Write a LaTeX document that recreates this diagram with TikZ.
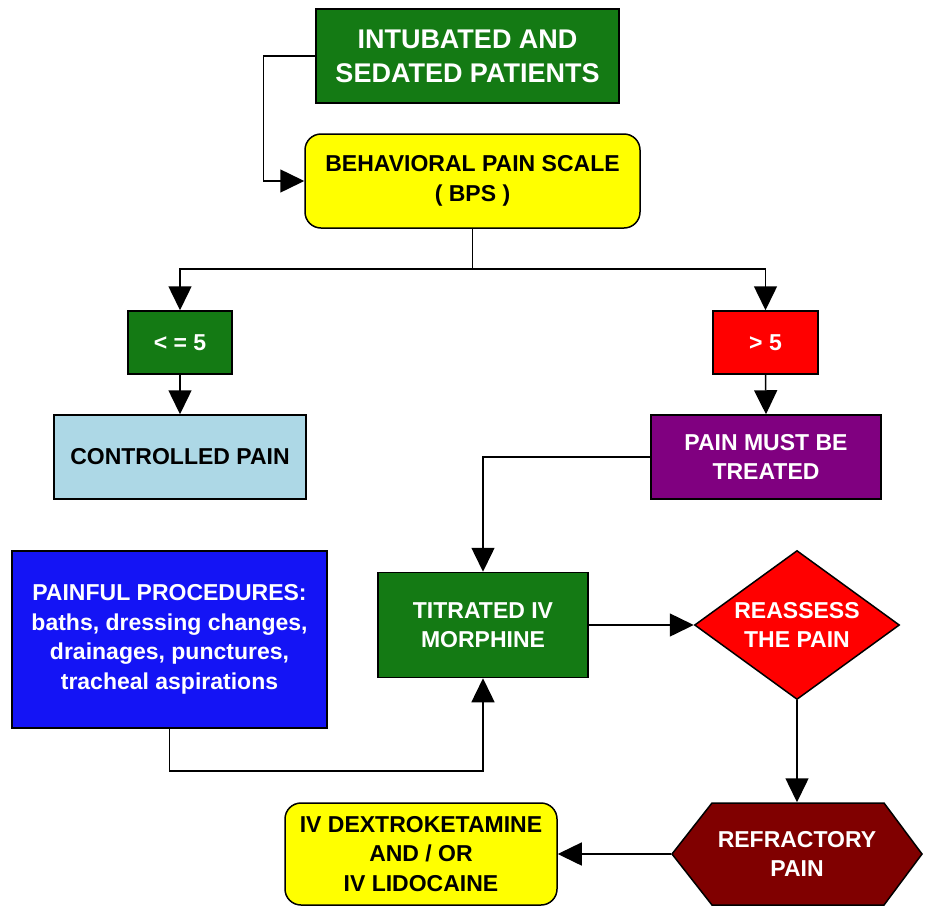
\documentclass[tikz,border=0pt]{standalone}
\usepackage{fontspec}
\setmainfont{Liberation Sans}
\usetikzlibrary{arrows.meta,shapes.geometric}
\definecolor{dgreen}{RGB}{20,122,20}
\definecolor{ygold}{RGB}{255,255,0}
\definecolor{lblue}{RGB}{173,216,230}
\definecolor{purp}{RGB}{128,0,128}
\definecolor{bblue}{RGB}{20,20,245}
\definecolor{redd}{RGB}{255,0,0}
\definecolor{maroon}{RGB}{128,0,0}
\tikzset{
  box/.style={draw=black, line width=1.5pt, align=center, inner sep=0pt,
    font=\bfseries\fontsize{23}{29.5}\selectfont},
  wbox/.style={box, text=white},
  arr/.style={line width=1.5pt, -{Triangle[length=24pt,width=23pt]}},
  ln/.style={line width=1.5pt}
}
\begin{document}
\begin{tikzpicture}[x=1pt,y=-1pt]
\useasboundingbox (0,0) rectangle (926,908);
% nodes
\node[wbox, fill=dgreen, minimum width=303pt, minimum height=94pt,
  font=\bfseries\fontsize{27}{34}\selectfont] (top) at (467.5,56) {INTUBATED AND\\SEDATED PATIENTS};
\node[box, fill=ygold, rounded corners=16pt, minimum width=335pt, minimum height=94pt] (bps) at (472.5,181) {BEHAVIORAL PAIN SCALE\\( BPS )};
\node[wbox, fill=dgreen, minimum width=104pt, minimum height=63pt] (le5) at (180,342.5) {< = 5};
\node[wbox, fill=redd, minimum width=105pt, minimum height=63pt] (gt5) at (765.5,342.5) {> 5};
\node[box, fill=lblue, minimum width=252pt, minimum height=84pt] (ctrl) at (180,457) {CONTROLLED PAIN};
\node[wbox, fill=purp, minimum width=230pt, minimum height=84pt] (treat) at (766,457) {PAIN MUST BE\\TREATED};
\node[wbox, fill=dgreen, minimum width=210pt, minimum height=105pt] (titr) at (483,625) {TITRATED IV\\MORPHINE};
\node[wbox, fill=bblue, minimum width=315pt, minimum height=177pt] (proc) at (169.5,639.5) {PAINFUL PROCEDURES:\\baths, dressing changes,\\drainages, punctures,\\tracheal aspirations};
\node[wbox, fill=redd, shape=diamond, aspect=1.376, minimum width=205pt, minimum height=149pt] (reas) at (797,625) {REASSESS\\THE PAIN};
\draw[ln, fill=maroon] (672,854) -- (712,803) -- (884,803) -- (922,854) -- (884,905) -- (712,905) -- cycle;
\node[box, draw=none, text=white, minimum width=250pt, minimum height=102pt] (refr) at (797,854) {REFRACTORY\\PAIN};
\node[box, fill=ygold, rounded corners=16pt, minimum width=272pt, minimum height=102pt] (dex) at (421,854) {IV DEXTROKETAMINE\\AND / OR\\IV LIDOCAINE};
% connectors
\draw[arr] (top.west) -- ++(-52,0) |- (bps.west);
\draw[arr] (bps.south) -- ++(0,40) -| (le5.north);
\draw[arr] (bps.south) -- ++(0,40) -| (gt5.north);
\draw[arr] (le5.south) -- (ctrl.north);
\draw[arr] (gt5.south) -- (treat.north);
\draw[arr] (treat.west) -| (titr.north);
\draw[arr] (proc.south) -- ++(0,42) -| (titr.south);
\draw[arr] (titr.east) -- (reas.west);
\draw[arr] (reas.south) -- (refr.north);
\draw[arr] (refr.west) -- (dex.east);
\end{tikzpicture}
\end{document}
